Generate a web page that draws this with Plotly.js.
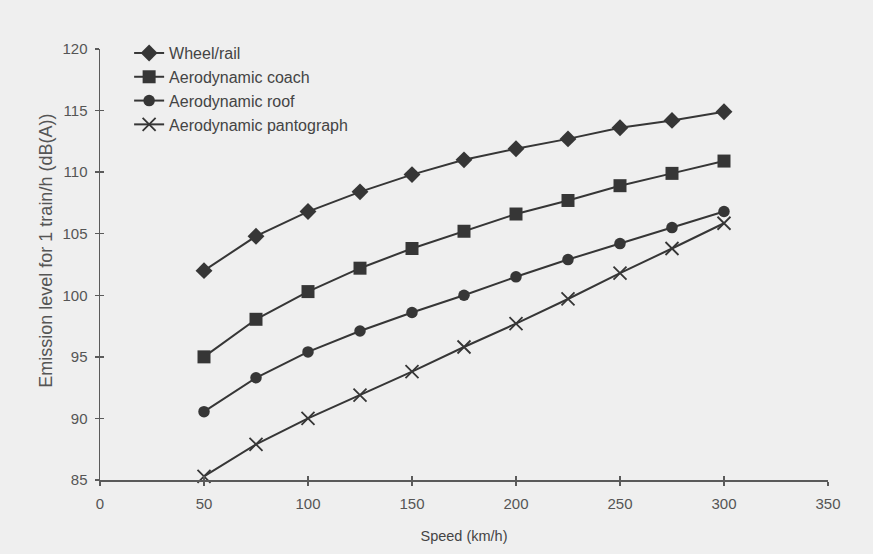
<!DOCTYPE html>
<html>
<head>
<meta charset="utf-8">
<script src="https://cdn.plot.ly/plotly-3.0.1.min.js"></script>
<style>html,body{margin:0;padding:0;background:#efefef;}#chart{width:873px;height:554px;}</style>
</head>
<body>
<div id="chart"></div>
<script>
const speeds = [50, 75, 100, 125, 150, 175, 200, 225, 250, 275, 300];
const wheelRail = [102.0, 104.8, 106.8, 108.4, 109.8, 111.0, 111.9, 112.7, 113.6, 114.2, 114.9];
const aeroCoach = [95.0, 98.05, 100.3, 102.2, 103.8, 105.2, 106.6, 107.7, 108.9, 109.9, 110.9];
const aeroRoof = [90.55, 93.3, 95.4, 97.1, 98.6, 100.0, 101.5, 102.9, 104.2, 105.5, 106.8];
const aeroPantograph = [85.3, 87.9, 90.0, 91.9, 93.8, 95.8, 97.7, 99.7, 101.8, 103.8, 105.85];
const seriesNames = ["Wheel/rail", "Aerodynamic coach", "Aerodynamic roof", "Aerodynamic pantograph"];
const xTicks = [0, 50, 100, 150, 200, 250, 300, 350];
const yTicks = [85, 90, 95, 100, 105, 110, 115, 120];
const xTitle = 'Speed (km/h)';
const yTitle = 'Emission level for 1 train/h (dB(A))';

const ink = '#363636';
const axisInk = '#5a5a5a';
const symbols = ['diamond', 'square', 'circle', 'x-thin-open'];
const sizes = [13, 13, 11.5, 13];
const data = [wheelRail, aeroCoach, aeroRoof, aeroPantograph].map((ys, i) => ({
  x: speeds, y: ys, name: seriesNames[i], type: 'scatter', mode: 'lines+markers',
  line: {color: ink, width: 2},
  marker: {symbol: symbols[i], size: sizes[i], color: ink, line: {color: ink, width: i === 3 ? 1.8 : 0}},
  cliponaxis: false
}));
// invisible helper trace so the overlay axes (inner halves of the crossing ticks) are drawn
data.push({x: speeds, y: wheelRail, xaxis: 'x2', yaxis: 'y2', type: 'scatter', mode: 'lines',
           opacity: 0, showlegend: false, hoverinfo: 'skip'});

const fam = 'Liberation Sans, Arial, sans-serif';
const tickStyle = {tickwidth: 1.5, tickcolor: axisInk, showgrid: false, zeroline: false};
const layout = {
  width: 873, height: 554,
  margin: {l: 100, r: 45, t: 49, b: 74},
  paper_bgcolor: '#efefef', plot_bgcolor: '#efefef',
  font: {family: fam, size: 15, color: '#444'},
  showlegend: true,
  legend: {x: 0.04, y: 1.03, xanchor: 'left', yanchor: 'top', bgcolor: 'rgba(0,0,0,0)',
           font: {family: fam, size: 16, color: '#444'}},
  xaxis: Object.assign({range: [0, 350], tickvals: xTicks, ticks: 'outside', ticklen: 4,
          ticklabelstandoff: 5, showline: true, linecolor: axisInk, linewidth: 1.5,
          title: {text: xTitle, font: {family: fam, size: 14.5, color: '#444'}, standoff: 20},
          tickfont: {family: fam, size: 15, color: '#555'}}, tickStyle),
  xaxis2: Object.assign({range: [0, 350], overlaying: 'x', anchor: 'y2', side: 'bottom', tickvals: xTicks,
           ticks: 'inside', ticklen: 4, showticklabels: false, showline: false}, tickStyle),
  yaxis: Object.assign({range: [85, 120], tickvals: yTicks, ticks: 'outside', ticklen: 4,
          ticklabelstandoff: 4, showline: true, linecolor: axisInk, linewidth: 1.5,
          tickfont: {family: fam, size: 15, color: '#555'}}, tickStyle),
  yaxis2: Object.assign({range: [85, 120], overlaying: 'y', anchor: 'x2', side: 'left', tickvals: yTicks,
           ticks: 'inside', ticklen: 4, showticklabels: false, showline: false}, tickStyle),
  annotations: [{text: yTitle, textangle: -90, xref: 'paper', yref: 'paper',
                 x: -0.0742, y: 0.532, xanchor: 'center', yanchor: 'middle', showarrow: false,
                 font: {family: fam, size: 18, color: '#555'}}]
};
Plotly.newPlot('chart', data, layout, {displayModeBar: false, staticPlot: true});
</script>
</body>
</html>
